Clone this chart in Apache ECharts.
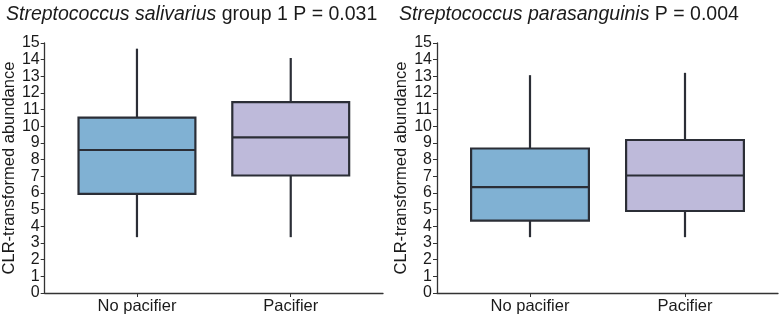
<!DOCTYPE html>
<html>
<head>
    <meta charset="utf-8"/>
    <title>CLR boxplots</title>
    <script src="https://cdn.jsdelivr.net/npm/echarts@6/dist/echarts.min.js"></script>
</head>
<body style="margin:0">
<div id="main" style="width: 781px; height: 315px"></div>
<script type="text/javascript">
    // categories and box stats: [min, Q1, median, Q3, max]
    var groups = ['No pacifier', 'Pacifier'];
    var salivariusNoPac = [3.35, 5.95, 8.58, 10.52, 14.66];
    var salivariusPac = [3.35, 7.05, 9.34, 11.45, 14.1];
    var parasanguinisNoPac = [3.35, 4.34, 6.35, 8.67, 13.07];
    var parasanguinisPac = [3.35, 4.92, 7.05, 9.18, 13.21];
    var speciesNames = ['Streptococcus salivarius', 'Streptococcus parasanguinis'];
    var titleRest = [' group 1 P = 0.031', ' P = 0.004'];
    var yTicks = [0, 15];

    var boxColors = ['#80b1d3', '#bebada'];
    var edge = '#2b2e36';
    var font = 'Liberation Sans, Arial, sans-serif';
    var BOX_W = 0.76;

    function renderBox(params, api) {
        var x = api.value(0);
        var half = api.size([BOX_W, 0])[0] / 2;
        var lo = api.coord([x, api.value(1)]);
        var q1 = api.coord([x, api.value(2)]);
        var md = api.coord([x, api.value(3)]);
        var q3 = api.coord([x, api.value(4)]);
        var hi = api.coord([x, api.value(5)]);
        var ls = {stroke: edge, lineWidth: 2.2};
        return {
            type: 'group',
            children: [
                {type: 'line', shape: {x1: lo[0], y1: lo[1], x2: q1[0], y2: q1[1]}, style: ls},
                {type: 'line', shape: {x1: q3[0], y1: q3[1], x2: hi[0], y2: hi[1]}, style: ls},
                {type: 'rect', shape: {x: q3[0] - half, y: q3[1], width: half * 2, height: q1[1] - q3[1]},
                    style: {fill: boxColors[params.dataIndex], stroke: edge, lineWidth: 2.2}},
                {type: 'line', shape: {x1: md[0] - half, y1: md[1], x2: md[0] + half, y2: md[1]}, style: ls}
            ]
        };
    }

    function toItems(a, b) {
        return [[0].concat(a), [1].concat(b)];
    }

    var grids = [
        {left: 43, right: 398, top: 43, bottom: 21},
        {left: 437, right: 3, top: 43, bottom: 21}
    ];
    var seriesData = [
        toItems(salivariusNoPac, salivariusPac),
        toItems(parasanguinisNoPac, parasanguinisPac)
    ];

    var option = {
        animation: false,
        title: [0, 1].map(function (i) {
            return {
                text: '{i|' + speciesNames[i] + '}' + titleRest[i],
                left: i === 0 ? 1 : 394, top: 0,
                textStyle: {
                    fontFamily: font, fontSize: 19.5, fontWeight: 'normal', color: '#1a1a1a',
                    rich: {i: {fontFamily: font, fontSize: 19.5, fontStyle: 'italic', color: '#1a1a1a'}}
                }
            };
        }),
        grid: grids,
        xAxis: [0, 1].map(function (i) {
            return {
                type: 'value', gridIndex: i, min: -0.6, max: 1.6,
                axisLine: {onZero: false, lineStyle: {color: '#333', width: 1.3}},
                axisTick: {show: true, length: 4, customValues: [0, 1], lineStyle: {color: '#333'}},
                axisLabel: {
                    customValues: [0, 1], margin: 5, fontFamily: font, fontSize: 16.5, color: '#1a1a1a',
                    formatter: function (v) { return groups[Math.round(v)]; }
                },
                splitLine: {show: false}
            };
        }),
        yAxis: [0, 1].map(function (i) {
            return {
                type: 'value', gridIndex: i, min: yTicks[0], max: yTicks[1], interval: 1,
                name: 'CLR-transformed abundance', nameLocation: 'middle', nameGap: 25,
                nameTextStyle: {fontFamily: font, fontSize: 16.5, color: '#1a1a1a'},
                axisLine: {show: true, onZero: false, lineStyle: {color: '#333', width: 1.3}},
                axisTick: {show: true, length: 4, lineStyle: {color: '#333'}},
                axisLabel: {margin: 5, fontFamily: font, fontSize: 16, color: '#1a1a1a'},
                splitLine: {show: false}
            };
        }),
        series: [0, 1].map(function (i) {
            return {
                type: 'custom', xAxisIndex: i, yAxisIndex: i,
                renderItem: renderBox,
                encode: {x: 0, y: [1, 2, 3, 4, 5]},
                data: seriesData[i]
            };
        })
    };

    var myChart = echarts.init(document.getElementById('main'));
    myChart.setOption(option);
</script>
</body>
</html>
